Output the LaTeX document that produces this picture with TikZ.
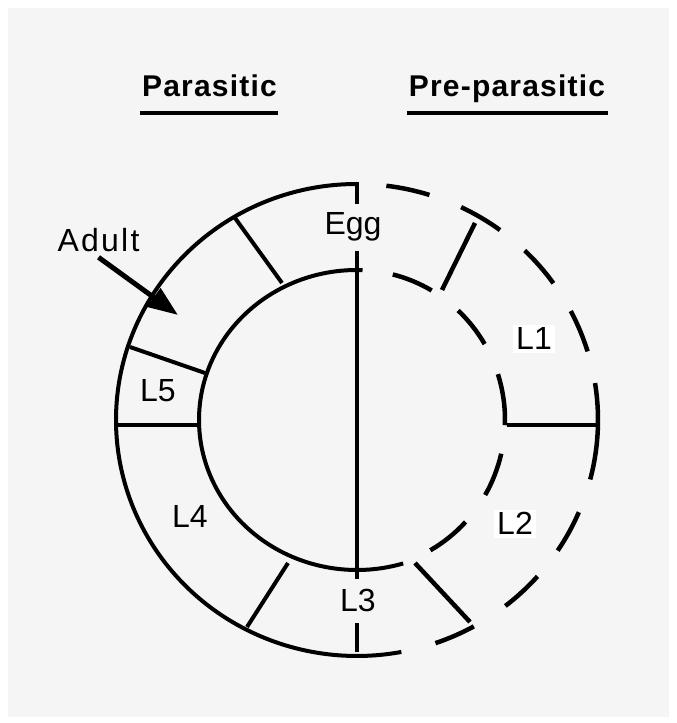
\documentclass[tikz,border=0pt]{standalone}
\usepackage{fontspec}
\setmainfont{Liberation Sans}
\usetikzlibrary{arrows.meta,calc}
\definecolor{paper}{RGB}{245,245,245}

\begin{document}
\begin{tikzpicture}[x=1pt,y=1pt,line width=4pt,
    title node/.style={font=\fontsize{30}{36}\selectfont\bfseries\addfontfeatures{LetterSpace=4}},
    stage node/.style={font=\fontsize{32}{38}\selectfont,inner sep=3pt},
    cut node/.style={stage node,fill=paper,inner xsep=2pt},
    dash line/.style={line width=4.5pt}]
  \useasboundingbox (0,0) rectangle (677,723);
  \fill[white] (0,0) rectangle (677,723);
  \fill[paper] (8,6) rectangle (669,715);
  \coordinate (c) at (357,303);

  % headings
  \node[title node,anchor=base] (para) at (209.5,626) {Parasitic};
  \node[title node,anchor=base] (prepara) at (507,626) {Pre-parasitic};
  \draw[line width=4.5pt] (140,610) -- (278,610);
  \draw[line width=4.5pt] (407,610) -- (608,610);

  % parasitic half
  \draw ($(c)+(90:241 and 236)$) arc[start angle=90,end angle=280.6,x radius=241,y radius=236];
  \draw ($(c)+(88:158 and 150)$) arc[start angle=88,end angle=287,x radius=158,y radius=150];
  \draw ($(c)+(-122,202)$) -- ($(c)+(-75,137)$);
  \draw ($(c)+(-227,73)$) -- ($(c)+(-152,47)$);
  \draw ($(c)+(-242,-5)$) -- ($(c)+(-159,-5)$);
  \draw ($(c)+(-110,-207)$) -- ($(c)+(-69,-143)$);

  % pre-parasitic half
  \foreach \a/\b in {83/72.5,64.4/53.6,45.9/35.4,27.5/16.9,9/-14.6,-23/-33.6,-41.5/-52,-61/-71}
    \draw[dash line] ($(c)+(\a:241 and 236)$) arc[start angle=\a,end angle=\b,x radius=241,y radius=236];
  \foreach \a/\b in {76/59.7,46.9/30.4,17.8/-2,-13/-30,-42.8/-60.3}
    \draw[dash line] ($(c)+(\a:148 and 150)$) arc[start angle=\a,end angle=\b,x radius=148,y radius=150];
  \draw[dash line] ($(c)+(85,130)$) -- ($(c)+(118,197)$);
  \draw[dash line] ($(c)+(150,-5)$) -- ($(c)+(240,-5)$);
  \draw[dash line] ($(c)+(58,-143)$) -- ($(c)+(113,-202)$);

  % stages
  \node[cut node,anchor=base,inner ysep=7pt] (egg) at (353,488) {Egg};
  \node[cut node,anchor=base,inner ysep=9pt] (l3) at (358,111) {L3};
  \node[stage node,anchor=base] (l5) at (158,321) {L5};
  \node[stage node,anchor=base] (l4) at (190,195) {L4};
  \node[stage node,anchor=base,fill=white] (l1) at (534,373) {L1};
  \node[stage node,anchor=base,fill=white] (l2) at (515,188) {L2};
  \node[stage node,anchor=base,font=\fontsize{32}{38}\selectfont\addfontfeatures{LetterSpace=7}] (adult) at (98.5,471) {Adult};

  \coordinate (vtop) at (357,541);
  \coordinate (vbot) at (357,71);
  \coordinate (tip) at (178,408);
  \draw (vtop) -- (vtop |- egg.north);
  \draw (vtop |- egg.south) -- (vtop |- l3.north);
  \draw (vtop |- l3.south) -- (vbot);
  \draw[-{Triangle[length=30pt,width=22pt]},line width=5pt] (adult.south) -- (tip);
\end{tikzpicture}
\end{document}
